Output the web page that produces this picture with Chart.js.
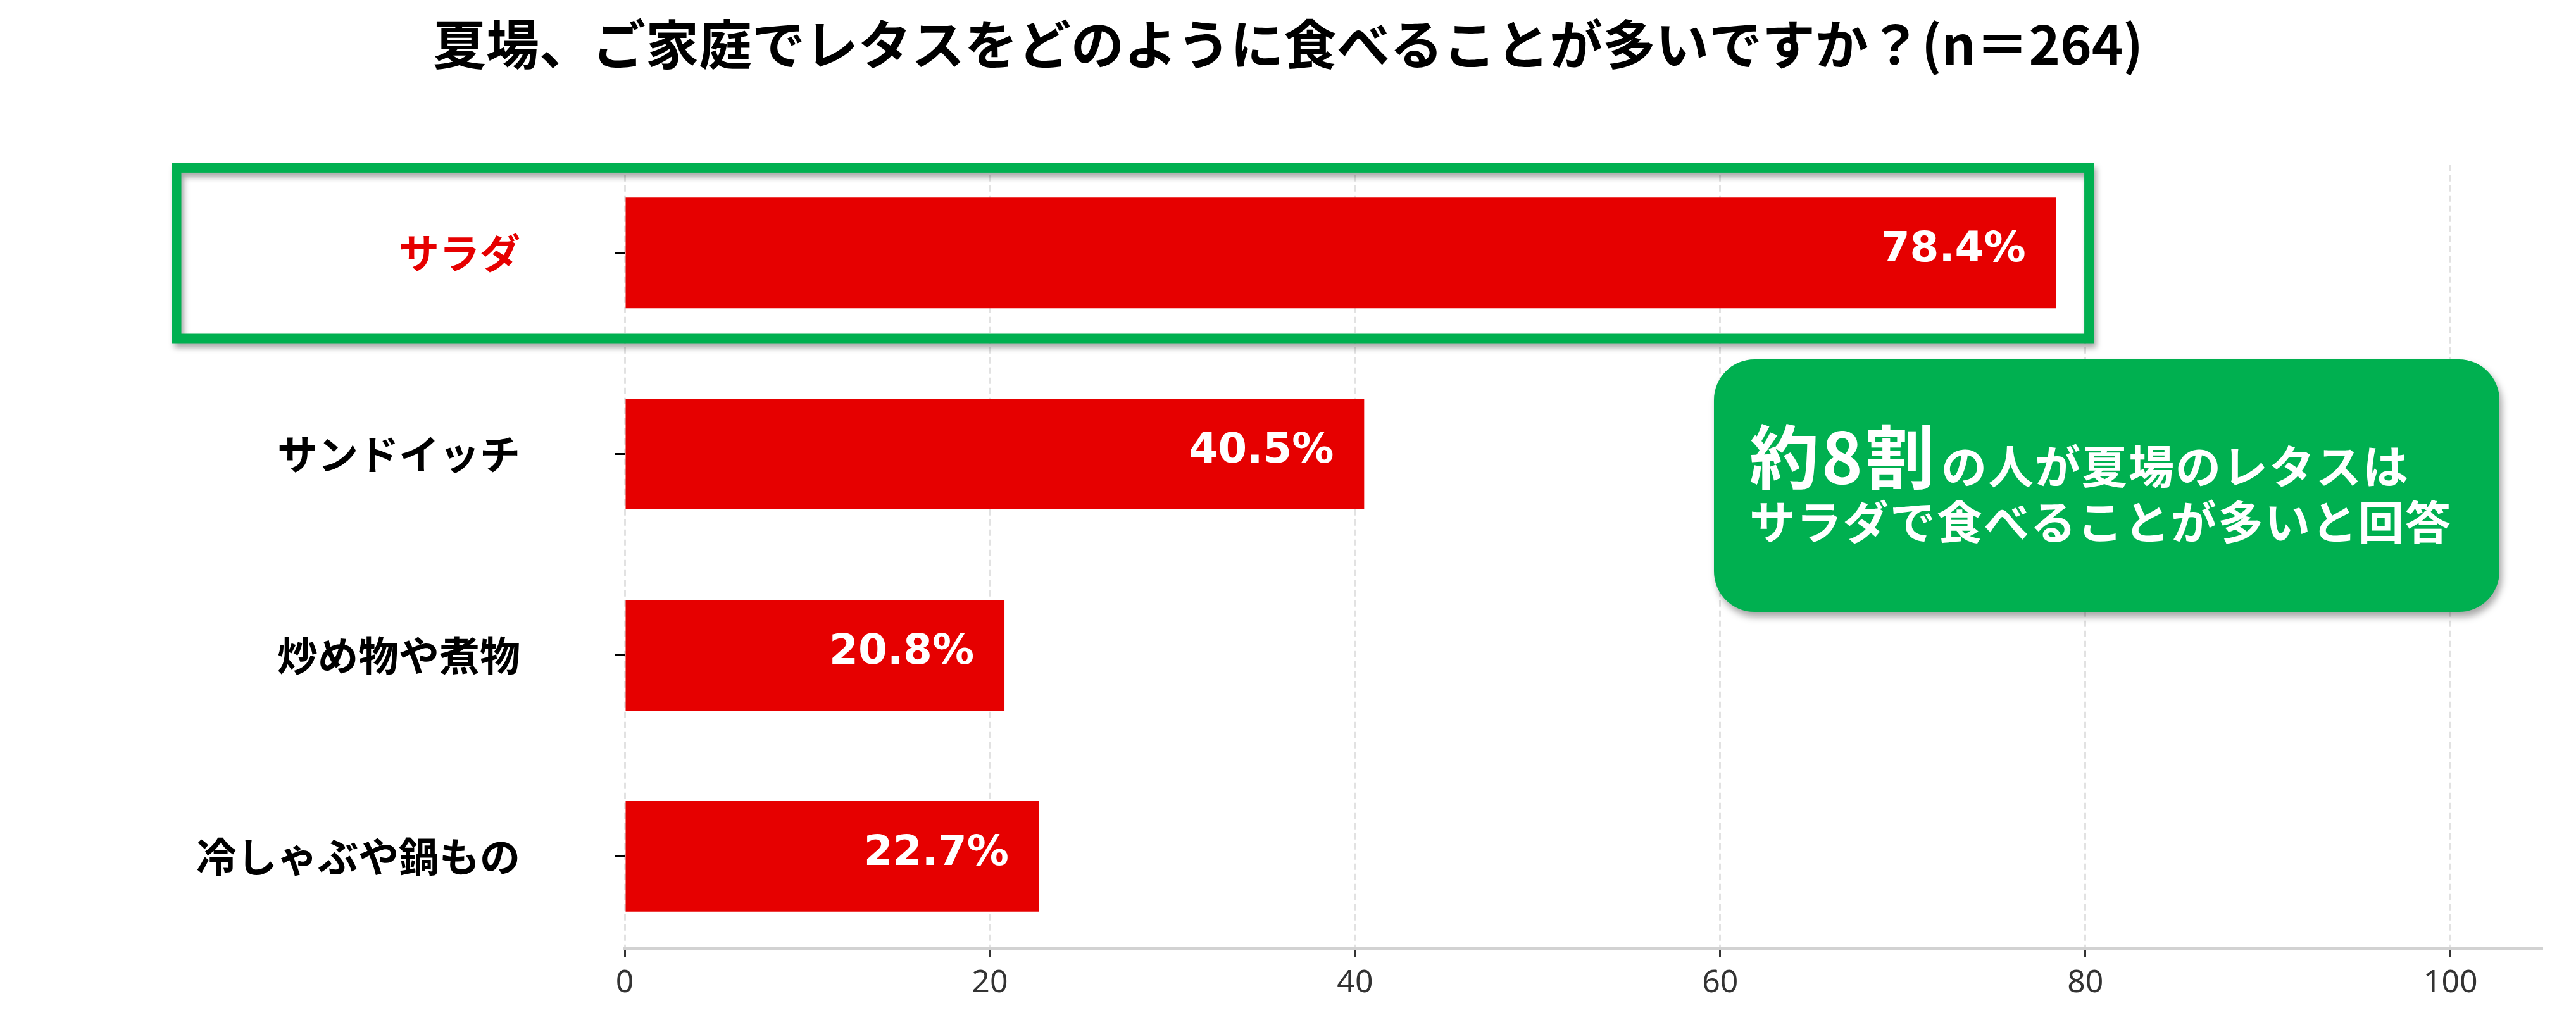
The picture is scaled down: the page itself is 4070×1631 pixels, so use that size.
<!DOCTYPE html>
<html>
<head>
<meta charset="utf-8">
<script src="https://cdn.jsdelivr.net/npm/chart.js@4.4.0/dist/chart.umd.min.js"></script>
<style>
  html, body { margin: 0; padding: 0; background: #fff; }
  #wrap { width: 4070px; height: 1631px; position: relative; }
</style>
</head>
<body>
<div id="wrap"><canvas id="myChart"></canvas></div>
<script>
// Data
const categories = ['サラダ', 'サンドイッチ', '炒め物や煮物', '冷しゃぶや鍋もの'];
const percentages = [78.4, 40.5, 20.8, 22.7];
const xTicks = [0, 20, 40, 60, 80, 100];
const chartTitle = '夏場、ご家庭でレタスをどのように食べることが多いですか？(n＝264)';
const calloutBig = '約8割';
const calloutLine1 = 'の人が夏場のレタスは';
const calloutLine2 = 'サラダで食べることが多いと回答';

const red = '#e60000';
const green = '#00b050';
const jp = '"Noto Sans CJK JP", "Noto Sans", sans-serif';

// White % labels inside the bar ends
const valueLabels = {
    id: 'valueLabels',
    afterDatasetsDraw(chart) {
        const ctx = chart.ctx;
        const meta = chart.getDatasetMeta(0);
        ctx.save();
        ctx.font = 'bold 66px "DejaVu Sans"';
        ctx.fillStyle = '#ffffff';
        ctx.textAlign = 'right';
        ctx.textBaseline = 'middle';
        meta.data.forEach((bar, i) => {
            ctx.fillText(percentages[i].toFixed(1) + '%', bar.x - 48, bar.y - 4);
        });
        ctx.restore();
    }
};

// Green frame round the first row
const highlight = {
    id: 'highlight',
    afterDatasetsDraw(chart) {
        const {ctx, scales: {x, y}} = chart;
        const top = y.getPixelForValue(-0.4225);
        const bottom = y.getPixelForValue(0.4256);
        const right = x.getPixelForValue(80.2);
        const left = 279;
        ctx.save();
        ctx.shadowColor = 'rgba(0,0,0,0.35)';
        ctx.shadowBlur = 10;
        ctx.shadowOffsetX = 4;
        ctx.shadowOffsetY = 7;
        ctx.strokeStyle = green;
        ctx.lineWidth = 15;
        ctx.strokeRect(left, top, right - left, bottom - top);
        ctx.restore();
    }
};

// Rounded green callout on the right
const callout = {
    id: 'callout',
    afterDatasetsDraw(chart) {
        const ctx = chart.ctx;
        const bx = 2708, by = 568, bw = 1241, bh = 399;
        ctx.save();
        ctx.shadowColor = 'rgba(0,0,0,0.35)';
        ctx.shadowBlur = 12;
        ctx.shadowOffsetX = 4;
        ctx.shadowOffsetY = 8;
        ctx.fillStyle = green;
        ctx.beginPath();
        ctx.roundRect(bx, by, bw, bh, 64);
        ctx.fill();
        ctx.restore();

        ctx.save();
        ctx.fillStyle = '#ffffff';
        ctx.textAlign = 'left';
        ctx.textBaseline = 'alphabetic';
        ctx.font = 'bold 110px ' + jp;
        ctx.letterSpacing = '4px';
        ctx.fillText(calloutBig, 2764, 764);
        const w = ctx.measureText(calloutBig).width;
        ctx.font = 'bold 72px ' + jp;
        ctx.letterSpacing = '2px';
        ctx.fillText(calloutLine1, 2764 + w + 6, 764);
        ctx.fillText(calloutLine2, 2764, 852);
        ctx.restore();
    }
};

var ctx = document.getElementById('myChart').getContext('2d');

var myChart = new Chart(ctx, {
    type: 'bar',
    data: {
        datasets: [{
            data: percentages.map((v, i) => ({x: v, y: i})),
            backgroundColor: red,
            borderWidth: 0,
            barPercentage: 0.55,
            categoryPercentage: 1
        }]
    },
    options: {
        indexAxis: 'y',
        responsive: true,
        maintainAspectRatio: false,
        animation: false,
        layout: {
            padding: {left: 54, right: 54, top: 0, bottom: 35}
        },
        plugins: {
            legend: {display: false},
            tooltip: {enabled: false},
            title: {
                display: true,
                text: chartTitle,
                color: '#000000',
                font: {family: jp, size: 84, weight: 'bold'},
                padding: {top: 20, bottom: 140}
            }
        },
        scales: {
            x: {
                type: 'linear',
                position: 'bottom',
                min: 0,
                max: 105,
                afterBuildTicks: axis => { axis.ticks = xTicks.map(v => ({value: v})); },
                ticks: {
                    color: '#333333',
                    font: {family: '"Noto Sans"', size: 50},
                    padding: 12
                },
                grid: {
                    color: '#e2e2e2',
                    lineWidth: 3,
                    tickLength: 14,
                    tickWidth: 3,
                    tickColor: '#333333'
                },
                border: {
                    display: true,
                    color: '#d2d2d2',
                    width: 5,
                    dash: [10, 6]
                }
            },
            y: {
                type: 'linear',
                reverse: true,
                offset: false,
                min: -0.437,
                max: 3.455,
                afterBuildTicks: axis => { axis.ticks = categories.map((c, i) => ({value: i})); },
                afterFit: axis => {
                    axis.width = 933;
                    axis.paddingTop = 0;
                    axis.paddingBottom = 0;
                },
                ticks: {
                    callback: v => categories[v],
                    color: c => c.index === 0 ? red : '#000000',
                    font: {family: jp, size: 64, weight: 'bold'},
                    padding: 150
                },
                grid: {
                    offset: false,
                    drawOnChartArea: false,
                    tickLength: 15,
                    tickWidth: 3,
                    tickColor: '#000000'
                },
                border: {display: false}
            }
        }
    },
    plugins: [valueLabels, highlight, callout]
});
</script>
</body>
</html>
